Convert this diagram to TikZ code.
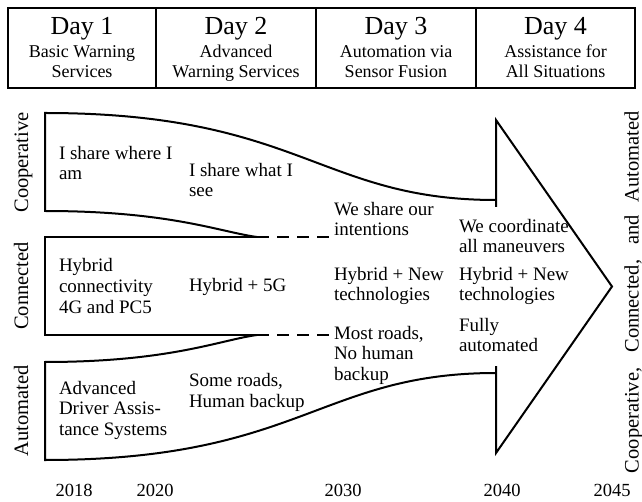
\documentclass[tikz,border=0pt]{standalone}
\usepackage{fontspec}
\setmainfont{Liberation Serif}
\begin{document}
\begin{tikzpicture}[x=1pt,y=-1pt,
  line width=2pt,
  daybox/.style={draw, inner sep=0pt, minimum height=80pt},
  daytitle/.style={inner sep=0pt, anchor=base, font=\fontsize{26}{28}\selectfont},
  daysub/.style={inner sep=0pt, anchor=base, align=center, font=\fontsize{18}{20}\selectfont},
  lbl/.style={inner sep=0pt, anchor=base west, align=left, font=\fontsize{19}{20.5}\selectfont},
  rowlbl/.style={inner sep=0pt, anchor=base, rotate=90, font=\fontsize{20.5}{22}\selectfont},
  yearlbl/.style={inner sep=0pt, anchor=base, font=\fontsize{18.5}{20}\selectfont},
  dashline/.style={dash pattern=on 12pt off 8pt}
]
\useasboundingbox (0,0) rectangle (642,502);

% header boxes
\node[daybox, minimum width=148pt] (d1) at (82,48) {};
\node[daybox, minimum width=160pt] (d2) at (236,48) {};
\node[daybox, minimum width=160pt] (d3) at (396,48) {};
\node[daybox, minimum width=159pt] (d4) at (555.5,48) {};
\node[daytitle] (t1) at (82,35) {Day 1};
\node[daytitle] (t2) at (236,35) {Day 2};
\node[daytitle] (t3) at (396,35) {Day 3};
\node[daytitle] (t4) at (555.5,35) {Day 4};
% (base anchor of a multi-line node = baseline of its last line)
\node[daysub] (s1) at (82,78) {Basic Warning\\Services};
\node[daysub] (s2) at (236,78) {Advanced\\Warning Services};
\node[daysub] (s3) at (396,78) {Automation via\\Sensor Fusion};
\node[daysub] (s4) at (555.5,78) {Assistance for\\All Situations};

% key coordinates
\coordinate (coTL) at (45,113);
\coordinate (coBL) at (45,211);
\coordinate (coEnd) at (496,200);
\coordinate (mergeTop) at (257,237);
\coordinate (mergeBot) at (257,335);
\coordinate (dashTop) at (329,237);
\coordinate (dashBot) at (329,335);
\coordinate (cnTL) at (45,237);
\coordinate (cnBL) at (45,335);
\coordinate (auTL) at (45,362);
\coordinate (auBL) at (45,460);
\coordinate (auEnd) at (496,373);
\coordinate (shTop) at (496,207);
\coordinate (arTop) at (496,120);
\coordinate (tip) at (612,286.5);
\coordinate (arBot) at (496,453);
\coordinate (shBot) at (496,366);

% cooperative band
\draw (coEnd) .. controls (320,200) and (300,113) .. (coTL) -- (coBL)
      .. controls (170,211) and (220,232) .. (mergeTop);
% connected band
\draw (mergeTop) -- (cnTL) -- (cnBL) -- (mergeBot);
\draw[dashline] (mergeTop) -- (dashTop);
\draw[dashline] (mergeBot) -- (dashBot);
% automated band
\draw (mergeBot) .. controls (220,340) and (170,362) .. (auTL) -- (auBL)
      .. controls (300,460) and (320,373) .. (auEnd);
% arrow head
\draw (shTop) -- (arTop) -- (tip) -- (arBot) -- (shBot);

% row labels
\node[rowlbl] (rCoop) at (28,162.5) {Cooperative};
\node[rowlbl] (rConn) at (28,286) {Connected};
\node[rowlbl] (rAuto) at (28,411) {Automated};
\node[rowlbl] (rAll) at (638.5,292) {\makebox[362pt][s]{Cooperative, Connected, and Automated}};

% column texts (positions = baseline of last line)
\node[lbl] (c11) at (58,180) {I share where I\\am};
\node[lbl] (c12) at (188,197) {I share what I\\see};
\node[lbl] (c13) at (333,236) {We share our\\intentions};
\node[lbl] (c14) at (458,253) {We coordinate\\all maneuvers};
\node[lbl] (c21) at (58,313) {Hybrid\\connectivity\\4G and PC5};
\node[lbl] (c22) at (188,292) {Hybrid + 5G};
\node[lbl] (c23) at (333,301) {Hybrid + New\\technologies};
\node[lbl] (c24) at (458,301) {Hybrid + New\\technologies};
\node[lbl] (c31) at (58,435) {Advanced\\Driver Assis-\\tance Systems};
\node[lbl] (c32) at (188,407) {Some roads,\\Human backup};
\node[lbl] (c33) at (333,380) {Most roads,\\No human\\backup};
\node[lbl] (c34) at (458,352) {Fully\\automated};

% years
\node[yearlbl] (y1) at (74,496) {2018};
\node[yearlbl] (y2) at (155,496) {2020};
\node[yearlbl] (y3) at (343,496) {2030};
\node[yearlbl] (y4) at (502,496) {2040};
\node[yearlbl] (y5) at (612,496) {2045};
\end{tikzpicture}
\end{document}
